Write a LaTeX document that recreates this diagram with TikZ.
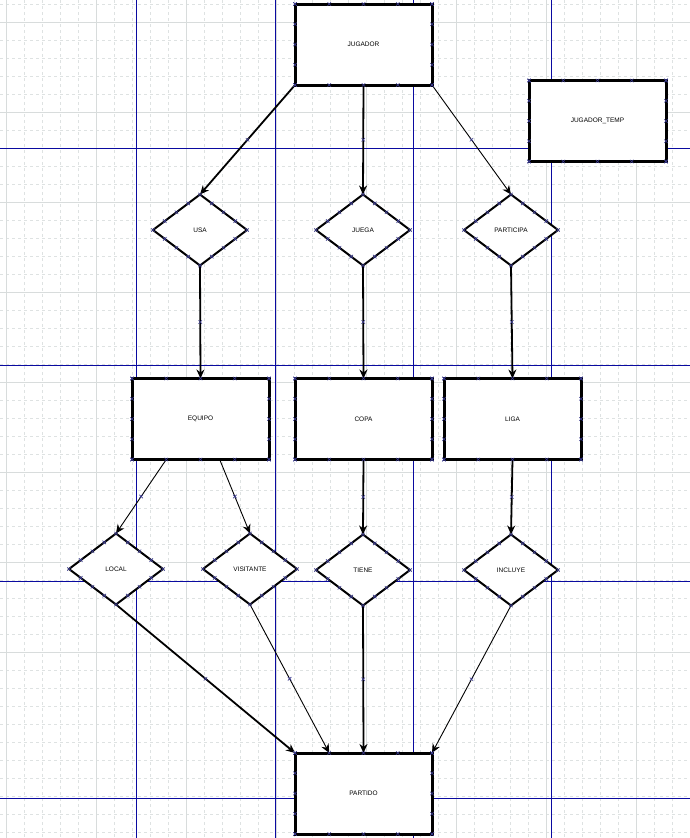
\documentclass[tikz,border=0pt]{standalone}
\usepackage{fontspec}
\setmainfont{Liberation Sans}
\usetikzlibrary{arrows.meta,shapes.geometric,shapes.misc,calc}
\definecolor{pagenavy}{HTML}{0A0AA0}
\definecolor{mkcol}{HTML}{3A3A90}
\definecolor{gridmaj}{HTML}{D8DCDC}
\definecolor{gridmin}{HTML}{DEE2E2}
\begin{document}
\begin{tikzpicture}[x=1pt,y=-1pt,
  ent/.style={draw, line width=3pt, minimum width=137pt, minimum height=81pt, outer sep=0pt, inner sep=0pt, fill=white, font=\fontsize{6.5}{8}\selectfont},
  rel/.style={draw, diamond, line width=2pt, minimum width=94pt, minimum height=71pt, aspect=1.32, outer sep=0pt, inner sep=0pt, fill=white, font=\fontsize{6.5}{8}\selectfont},
  mkx/.style={cross out, draw=mkcol, line width=0.6pt, minimum size=3.5pt, inner sep=0pt, outer sep=0pt},
  thickarr/.style={line width=1.8pt, -{Stealth[length=9pt,width=8pt]}},
  thinarr/.style={line width=0.9pt, -{Stealth[length=9pt,width=8pt]}},
  pagebreak/.style={fill=pagenavy}
]
\useasboundingbox (0,0) rectangle (690,838);
\begin{scope}
\clip (0,0) rectangle (690,838);
\fill[white] (0,0) rectangle (690,838);
% minor grid
\foreach \k in {0,...,38} {
  \draw[gridmin, line width=0.6pt, dash pattern=on 3pt off 3pt] (6+18*\k,0) -- (6+18*\k,838);
}
\foreach \k in {0,...,46} {
  \draw[gridmin, line width=0.6pt, dash pattern=on 3pt off 3pt] (0,4+18*\k) -- (690,4+18*\k);
}
% major grid
\foreach \k in {0,...,7} {
  \draw[gridmaj, line width=0.7pt] (6+90*\k,0) -- (6+90*\k,838);
  \draw[gridmaj, line width=0.7pt] (0,22+90*\k) -- (690,22+90*\k);
}
% page breaks
\foreach \xx in {136,275,413,551} { \path[pagebreak] (\xx,0) rectangle (\xx+1.2,838); }
\foreach \yy in {148,365,581,798} { \path[pagebreak] (0,\yy) rectangle (690,\yy+1.2); }
\end{scope}

% entities
\node[ent] (JUG) at (363.5,44.5) {JUGADOR};
\node[ent] (JT)  at (597.5,121) {JUGADOR\_TEMP};
\node[ent] (EQ)  at (200.5,419) {EQUIPO};
\node[ent] (COPA) at (363.5,419) {COPA};
\node[ent] (LIGA) at (512.5,419) {LIGA};
\node[ent] (PAR) at (363.5,793.5) {PARTIDO};

% relationships
\node[rel] (USA)  at (200,230) {USA};
\node[rel] (JUE)  at (363,230) {JUEGA};
\node[rel] (PART) at (511,230) {PARTICIPA};
\node[rel] (LOC)  at (116,569) {LOCAL};
\node[rel] (VIS)  at (250,569) {VISITANTE};
\node[rel] (TIE)  at (363,570) {TIENE};
\node[rel] (INC)  at (511,570) {INCLUYE};

% connectors
\draw[thickarr] (JUG.south west) -- node[mkx]{} (USA.north);
\draw[thickarr] (JUG.south) -- node[mkx]{} (JUE.north);
\draw[thinarr]  (JUG.south east) -- node[mkx]{} (PART.north);
\draw[thickarr] (USA.south) -- node[mkx]{} (EQ.north);
\draw[thickarr] (JUE.south) -- node[mkx]{} (COPA.north);
\draw[thickarr] (PART.south) -- node[mkx]{} (LIGA.north);
\coordinate (EQa) at ($(EQ.south west)!0.25!(EQ.south east)$);
\coordinate (EQb) at ($(EQ.south west)!0.64!(EQ.south east)$);
\draw[thinarr]  (EQa) -- node[mkx]{} (LOC.north);
\draw[thinarr]  (EQb) -- node[mkx]{} (VIS.north);
\draw[thickarr] (COPA.south) -- node[mkx]{} (TIE.north);
\draw[thickarr] (LIGA.south) -- node[mkx]{} (INC.north);
\coordinate (PARq) at ($(PAR.north west)!0.25!(PAR.north east)$);
\draw[thickarr] (LOC.south) -- node[mkx]{} (PAR.north west);
\draw[thinarr]  (VIS.south) -- node[mkx]{} (PARq);
\draw[thickarr] (TIE.south) -- node[mkx]{} (PAR.north);
\draw[thinarr]  (INC.south) -- node[mkx]{} (PAR.north east);

% connection markers on entities
\foreach \n in {JUG,JT,EQ,COPA,LIGA,PAR} {
  \foreach \f in {0,0.25,0.5,0.75,1} {
    \node[mkx] at ($(\n.north west)!\f!(\n.north east)$) {};
    \node[mkx] at ($(\n.south west)!\f!(\n.south east)$) {};
    \node[mkx] at ($(\n.north west)!\f!(\n.south west)$) {};
    \node[mkx] at ($(\n.north east)!\f!(\n.south east)$) {};
  }
}
% connection markers on relationships
\foreach \n in {USA,JUE,PART,LOC,VIS,TIE,INC} {
  \foreach \f in {0,0.25,0.5,0.75} {
    \node[mkx] at ($(\n.north)!\f!(\n.east)$) {};
    \node[mkx] at ($(\n.east)!\f!(\n.south)$) {};
    \node[mkx] at ($(\n.south)!\f!(\n.west)$) {};
    \node[mkx] at ($(\n.west)!\f!(\n.north)$) {};
  }
}
\end{tikzpicture}
\end{document}
